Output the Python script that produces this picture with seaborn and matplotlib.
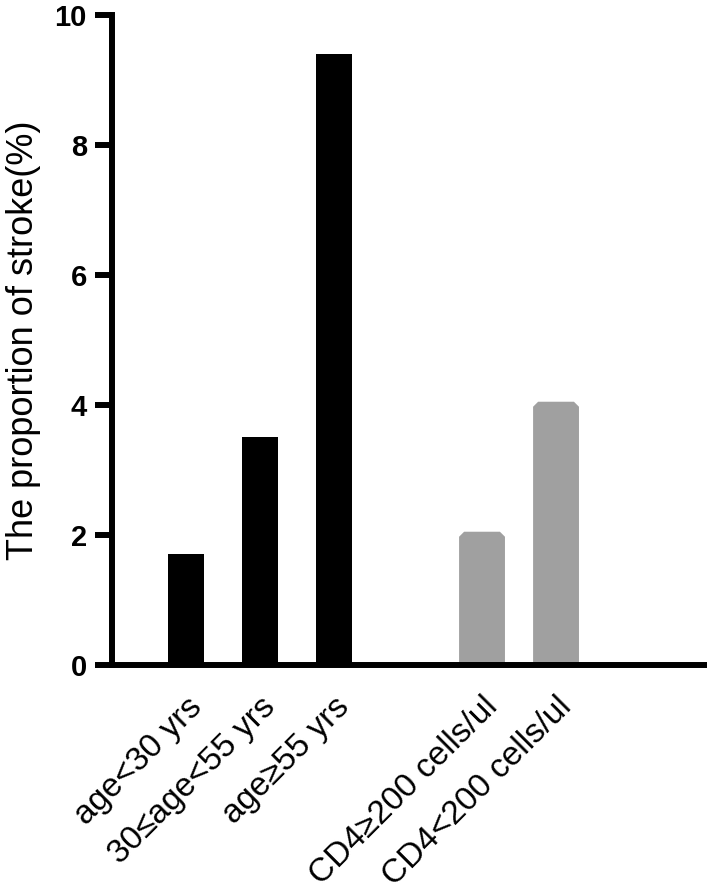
import matplotlib
matplotlib.use("Agg")
import matplotlib.pyplot as plt
import matplotlib.transforms as mtransforms
from matplotlib.patches import Polygon
import numpy as np
import pandas as pd
import seaborn as sns

# ─────────────────────────────────────────────
# Data
# ─────────────────────────────────────────────

age_groups = ["age<30 yrs", "30≤age<55 yrs", "age≥55 yrs"]
age_pct    = [1.7, 3.5, 9.4]

cd4_groups = ["CD4≥200 cells/ul", "CD4<200 cells/ul"]
cd4_pct    = [2.05, 4.05]

y_label = "The proportion of stroke(%)"
y_ticks = [0, 2, 4, 6, 8, 10]

# ─────────────────────────────────────────────
# Style
# ─────────────────────────────────────────────

sns.set_style("ticks")
plt.rcParams["font.family"] = ["Liberation Sans", "DejaVu Sans"]
plt.rcParams["text.color"] = "black"
plt.rcParams["axes.labelcolor"] = "black"

BLACK = "#000000"
GREY  = "#a0a0a0"
LW    = 4.3

# age bars sit at 0,1,2 ; one empty slot ; CD4 bars after it
age_pos = np.arange(len(age_groups))
cd4_pos = np.arange(len(cd4_groups)) + len(age_groups) + 1

df_age = pd.DataFrame({"pos": age_pos, "pct": age_pct, "group": age_groups})
df_cd4 = pd.DataFrame({"pos": cd4_pos, "pct": cd4_pct, "group": cd4_groups})

fig = plt.figure(figsize=(7.07, 8.92), dpi=100)
ax = fig.add_axes([0.1584, 0.2545, 0.8416, 0.7287])

sns.barplot(data=df_age, x="pos", y="pct", native_scale=True, width=0.49,
            color=BLACK, saturation=1, edgecolor="none", linewidth=0,
            errorbar=None, ax=ax)

n_before = len(ax.patches)
sns.barplot(data=df_cd4, x="pos", y="pct", native_scale=True, width=0.62,
            color=GREY, saturation=1, edgecolor="none", linewidth=0,
            errorbar=None, ax=ax)

# grey bars have small chamfered top corners
cx, cy = 0.068, 0.077
for rect in list(ax.patches[n_before:]):
    x0, y0 = rect.get_x(), rect.get_y()
    w, h = rect.get_width(), rect.get_height()
    pts = [(x0, y0), (x0, y0 + h - cy), (x0 + cx, y0 + h),
           (x0 + w - cx, y0 + h), (x0 + w, y0 + h - cy), (x0 + w, y0)]
    ax.add_patch(Polygon(pts, closed=True, facecolor=GREY, edgecolor="none"))
    rect.remove()

# ─────────────────────────────────────────────
# Axes
# ─────────────────────────────────────────────

ax.set_xlim(-1, 7.04)
ax.set_ylim(0, 10)
ax.set_yticks(y_ticks)
ax.set_yticklabels([str(t) for t in y_ticks], fontsize=21, fontweight="bold")

ax.set_xticks(list(age_pos) + list(cd4_pos))
ax.set_xticklabels(age_groups + cd4_groups, fontsize=24, rotation=45,
                   ha="right", va="top", rotation_mode="anchor")
shift = mtransforms.ScaledTranslation(14 / 100, 0, fig.dpi_scale_trans)
for lbl in ax.get_xticklabels():
    lbl.set_transform(lbl.get_transform() + shift)

ax.set_xlabel("")
ax.set_ylabel(y_label, fontsize=26, labelpad=10, color="black")

for side in ["top", "right"]:
    ax.spines[side].set_visible(False)
for side in ["left", "bottom"]:
    ax.spines[side].set_linewidth(LW)
    ax.spines[side].set_color("black")

ax.tick_params(axis="y", length=12, width=LW, pad=6, colors="black")
ax.tick_params(axis="x", length=0, pad=19, colors="black")

fig.savefig("out.png", dpi=100)
plt.close(fig)
